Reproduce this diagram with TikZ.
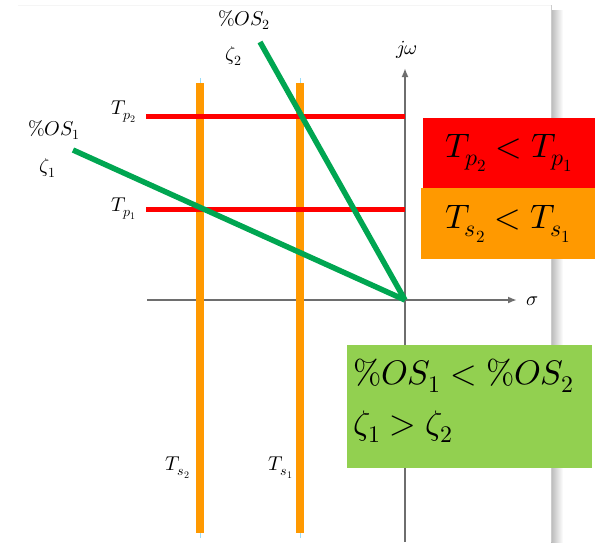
\documentclass[tikz,border=0pt]{standalone}
\usepackage{fontspec}
\usepackage{unicode-math}
\setmainfont{Liberation Serif}
\usetikzlibrary{arrows.meta}

\definecolor{zetagreen}{RGB}{0,166,81}
\definecolor{tsorange}{RGB}{255,153,0}
\definecolor{boxgreen}{RGB}{146,208,80}
\definecolor{axisgray}{RGB}{110,110,110}

\begin{document}
\begin{tikzpicture}[x=1pt, y=-1pt,
    axis/.style={draw=axisgray, line width=1.8pt, -{Latex[length=9pt, width=7pt]}},
    pline/.style={draw=red, line width=5pt},
    sline/.style={draw=tsorange, line width=8pt},
    zline/.style={draw=zetagreen, line width=5.5pt},
    lbl/.style={inner sep=0pt, font=\fontsize{20}{22}\selectfont},
    bigbox/.style={anchor=north west, inner xsep=12pt, inner ysep=0pt, align=left,
        font=\fontsize{34}{50}\selectfont}]
    \useasboundingbox (0,0) rectangle (595,542);

    % Frame with shadow
    \draw[gray!8, line width=1pt] (18,5) -- (551,5);
    \fill[left color=gray!55, right color=white] (551,10) rectangle (563,542);
    \draw[gray!40, line width=0.6pt] (551,5) -- (551,542);

    % Axes
    \coordinate (origin) at (405,300);
    \coordinate (jwtip) at (405,68);
    \coordinate (jwfoot) at (405,542);
    \coordinate (sigtail) at (147,300);
    \coordinate (sigtip) at (517,300);
    \draw[axis] (jwfoot) -- (jwtip);
    \draw[axis] (sigtail) -- (sigtip);
    \node[lbl] (jw) at (407,50) {$j\omega$};
    \node[lbl] (sigma) at (532,301) {$\sigma$};

    % Settling time lines
    \foreach \x/\name in {200/ts2, 300/ts1} {
        \draw[cyan!40, line width=0.8pt] (\x,78) -- (\x,538);
        \draw[sline] (\x,83) coordinate (\name top) -- (\x,533) coordinate (\name bot);
    }
    \node[lbl] (Ts2) at (178,468) {$T_{s_2}$};
    \node[lbl] (Ts1) at (281,468) {$T_{s_1}$};

    % Peak time lines
    \node[lbl] (Tp2) at (124,112) {$T_{p_2}$};
    \node[lbl] (Tp1) at (124,209) {$T_{p_1}$};
    \draw[pline] (146,116) -- (405,116);
    \draw[pline] (146,209) -- (405,209);

    % Damping ratio lines
    \node[lbl] (os2) at (244,20) {$\%OS_2$};
    \node[lbl] (z2) at (234,56) {$\zeta_2$};
    \node[lbl] (os1) at (54,130) {$\%OS_1$};
    \node[lbl] (z1) at (48,168) {$\zeta_1$};
    \coordinate (z2start) at (260,42);
    \coordinate (z1start) at (73,150);
    \draw[zline] (z2start) -- (origin);
    \draw[zline] (z1start) -- (origin);

    % Comparison boxes
    \node[bigbox, fill=red, minimum width=172pt, minimum height=70pt] (tpbox) at (423,118)
        {$T_{p_2}<T_{p_1}$};
    \node[bigbox, fill=tsorange, minimum width=174pt, minimum height=71pt] (tsbox) at (421,188)
        {$T_{s_2}<T_{s_1}$};
    \node[fill=boxgreen, minimum width=245pt, minimum height=123pt, anchor=north west,
        inner sep=0pt] (osbox) at (347,345) {};
    \node[bigbox, anchor=west, inner xsep=6pt] (ostext) at ([yshift=6pt]osbox.west)
        {$\%OS_1<\%OS_2$\\$\zeta_1>\zeta_2$};
\end{tikzpicture}
\end{document}
